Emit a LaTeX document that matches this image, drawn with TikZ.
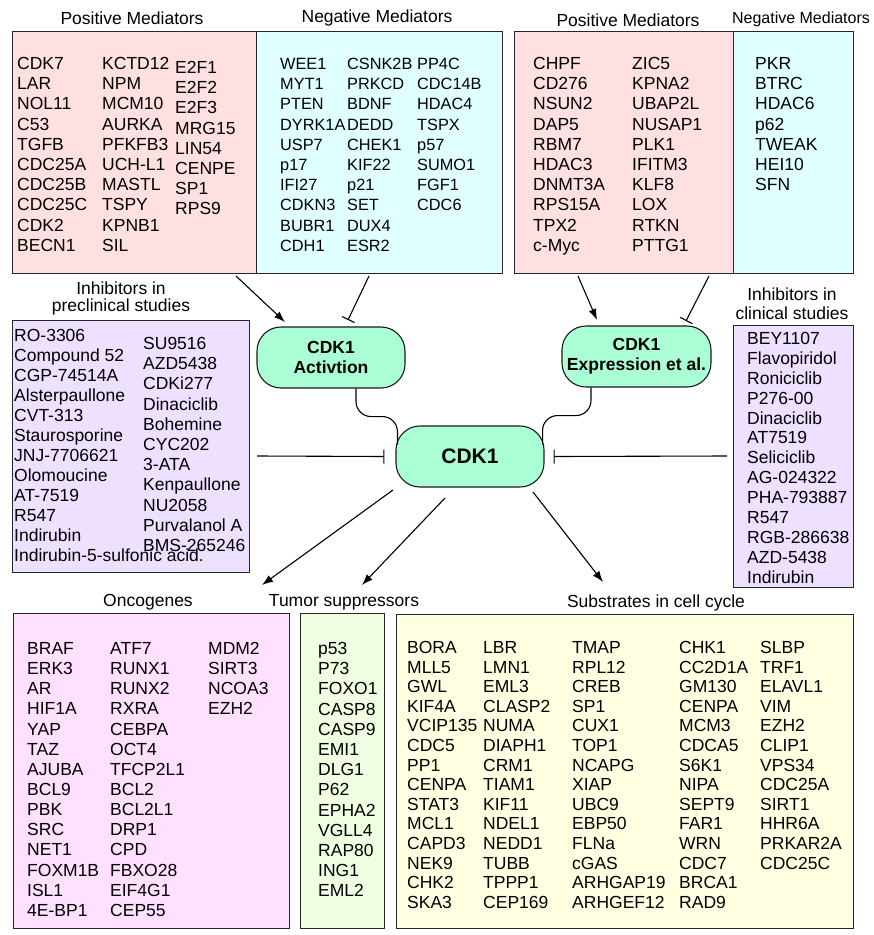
\documentclass[tikz,border=0pt]{standalone}
\usepackage{fontspec}
\setmainfont{Liberation Sans}
\usetikzlibrary{arrows.meta,calc}
\definecolor{pinkbox}{RGB}{255,224,224}
\definecolor{cyanbox}{RGB}{224,255,255}
\definecolor{lavbox}{RGB}{238,224,255}
\definecolor{oncbox}{RGB}{255,224,255}
\definecolor{tumbox}{RGB}{240,255,226}
\definecolor{subbox}{RGB}{255,255,226}
\definecolor{mint}{RGB}{170,255,212}
\newcommand\itemcol[5]{%
  \foreach \t [count=\k] in {#5}{%
    \node[itemtxt, name=#1-\k] at (#2, {#3+(\k-1)*#4+6.4}) {\t};
  }}
\begin{document}
\begin{tikzpicture}[x=1pt,y=-1pt,
  itemtxt/.style={anchor=base west, inner sep=0pt, font=\fontsize{17.5}{20}\selectfont},
  ttl/.style={inner sep=0pt, font=\fontsize{17.5}{20}\selectfont, align=center},
  box/.style={draw=black!85, line width=1.1pt, anchor=north west, inner sep=0pt},
  cdk/.style={draw=black!90, line width=1.1pt, fill=mint, rounded corners=24pt, align=center, inner sep=0pt, font=\fontsize{17.5}{20}\selectfont\bfseries},
  conn/.style={line width=1.1pt, draw=black},
  act/.style={conn, -{Latex[length=11pt,width=8pt]}},
  inh/.style={conn, -{Bar[width=14pt,line width=1.1pt]}}
]
\useasboundingbox (0,0) rectangle (874,935);

% ---------- boxes ----------
\node[box, fill=pinkbox, minimum width=244pt, minimum height=242pt] (posL) at (12,31) {};
\node[box, fill=cyanbox, minimum width=246pt, minimum height=242pt] (negL) at (256,31) {};
\node[box, fill=pinkbox, minimum width=219pt, minimum height=242pt] (posR) at (514,31) {};
\node[box, fill=cyanbox, minimum width=120pt, minimum height=242pt] (negR) at (733,31) {};
\node[box, fill=lavbox, minimum width=237pt, minimum height=252pt] (pre) at (12,320) {};
\node[box, fill=lavbox, minimum width=120pt, minimum height=262pt] (clin) at (733,325) {};
\node[box, fill=oncbox, minimum width=276pt, minimum height=315pt] (onc) at (13,613) {};
\node[box, fill=tumbox, minimum width=84pt, minimum height=315pt] (tum) at (300,613) {};
\node[box, fill=subbox, minimum width=457pt, minimum height=314pt] (sub) at (396,614) {};

% ---------- titles ----------
\node[ttl] (tPosL) at (132,18) {Positive Mediators};
\node[ttl] (tNegL) at (377,18) {Negative Mediators};
\node[ttl] (tPosR) at (628,20) {Positive Mediators};
\node[ttl, font=\fontsize{16}{20}\selectfont] (tNegR) at (801,19) {Negative Mediators};
\node[ttl] (tPre1) at (121,288) {Inhibitors in};
\node[ttl] (tPre2) at (121,307) {preclinical studies};
\node[ttl] (tClin1) at (792,294) {Inhibitors in};
\node[ttl] (tClin2) at (792,313) {clinical studies};
\node[ttl] (tOnc) at (148,602) {Oncogenes};
\node[ttl] (tTum) at (344,602) {Tumor suppressors};
\node[ttl] (tSub) at (656,603) {Substrates in cell cycle};

% ---------- lists ----------
\itemcol{pl1}{17}{63}{20.2}{CDK7,LAR,NOL11,C53,TGFB,CDC25A,CDC25B,CDC25C,CDK2,BECN1}
\itemcol{pl2}{102}{63}{20.2}{KCTD12,NPM,MCM10,AURKA,PFKFB3,UCH-L1,MASTL,TSPY,KPNB1,SIL}
\itemcol{pl3}{175}{67}{20.2}{E2F1,E2F2,E2F3,MRG15,LIN54,CENPE,SP1,RPS9}
\begin{scope}[itemtxt/.append style={font=\fontsize{16.3}{20}\selectfont}]
\itemcol{nl1}{280}{63}{20.2}{WEE1,MYT1,PTEN,DYRK1A,USP7,p17,IFI27,CDKN3,BUBR1,CDH1}
\itemcol{nl2}{347}{63}{20.2}{CSNK2B,PRKCD,BDNF,DEDD,CHEK1,KIF22,p21,SET,DUX4,ESR2}
\itemcol{nl3}{417}{63}{20.2}{PP4C,CDC14B,HDAC4,TSPX,p57,SUMO1,FGF1,CDC6}
\end{scope}
\itemcol{pr1}{533}{63}{20.2}{CHPF,CD276,NSUN2,DAP5,RBM7,HDAC3,DNMT3A,RPS15A,TPX2,c-Myc}
\itemcol{pr2}{632}{63}{20.2}{ZIC5,KPNA2,UBAP2L,NUSAP1,PLK1,IFITM3,KLF8,LOX,RTKN,PTTG1}
\itemcol{nr1}{755}{63}{20.2}{PKR,BTRC,HDAC6,p62,TWEAK,HEI10,SFN}
\itemcol{pc1}{14}{335}{20}{RO-3306,Compound 52,CGP-74514A,Alsterpaullone,CVT-313,Staurosporine,JNJ-7706621,Olomoucine,AT-7519,R547,Indirubin,Indirubin-5-sulfonic acid.}
\itemcol{pc2}{143}{343}{20.2}{SU9516,AZD5438,CDKi277,Dinaciclib,Bohemine,CYC202,3-ATA,Kenpaullone,NU2058,Purvalanol A,BMS-265246}
\itemcol{cl1}{747}{338}{19.9}{BEY1107,Flavopiridol,Roniciclib,P276-00,Dinaciclib,AT7519,Seliciclib,AG-024322,PHA-793887,R547,RGB-286638,AZD-5438,Indirubin}
\itemcol{on1}{27}{648}{20.15}{BRAF,ERK3,AR,HIF1A,YAP,TAZ,AJUBA,BCL9,PBK,SRC,NET1,FOXM1B,ISL1,4E-BP1}
\itemcol{on2}{110}{648}{20.15}{ATF7,RUNX1,RUNX2,RXRA,CEBPA,OCT4,TFCP2L1,BCL2,BCL2L1,DRP1,CPD,FBXO28,EIF4G1,CEP55}
\itemcol{on3}{208}{648}{20.15}{MDM2,SIRT3,NCOA3,EZH2}
\itemcol{ts1}{318}{648}{20.2}{p53,P73,FOXO1,CASP8,CASP9,EMI1,DLG1,P62,EPHA2,VGLL4,RAP80,ING1,EML2}
\itemcol{sb1}{407}{647}{19.6}{BORA,MLL5,GWL,KIF4A,VCIP135,CDC5,PP1,CENPA,STAT3,MCL1,CAPD3,NEK9,CHK2,SKA3}
\itemcol{sb2}{483}{647}{19.6}{LBR,LMN1,EML3,CLASP2,NUMA,DIAPH1,CRM1,TIAM1,KIF11,NDEL1,NEDD1,TUBB,TPPP1,CEP169}
\itemcol{sb3}{572}{647}{19.6}{TMAP,RPL12,CREB,SP1,CUX1,TOP1,NCAPG,XIAP,UBC9,EBP50,FLNa,cGAS,ARHGAP19,ARHGEF12}
\itemcol{sb4}{679}{647}{19.6}{CHK1,CC2D1A,GM130,CENPA,MCM3,CDCA5,S6K1,NIPA,SEPT9,FAR1,WRN,CDC7,BRCA1,RAD9}
\itemcol{sb5}{760}{647}{19.6}{SLBP,TRF1,ELAVL1,VIM,EZH2,CLIP1,VPS34,CDC25A,SIRT1,HHR6A,PRKAR2A,CDC25C}

% ---------- CDK1 nodes ----------
\node[cdk, minimum width=148pt, minimum height=61pt] (act) at (331,357.5) {CDK1\\Activtion};
\node[cdk, minimum width=149pt, minimum height=61pt] (expr) at (636.5,356.5) {CDK1\\Expression et al.};
\node[cdk, minimum width=148pt, minimum height=61pt, font=\fontsize{21}{24}\selectfont\bfseries] (cdk1) at (470,456.5) {CDK1};

% ---------- connectors ----------
\coordinate (s1) at (236,276);  \coordinate (e1) at (285,322);
\coordinate (s2) at (369,276);  \coordinate (e2) at (348,320);
\coordinate (s3) at (578,276);  \coordinate (e3) at (597,320);
\coordinate (s4) at (709,276);  \coordinate (e4) at (686,321);
\draw[act] (s1) -- (e1);
\draw[inh] (s2) -- (e2);
\draw[act] (s3) -- (e3);
\draw[inh] (s4) -- (e4);

\draw[conn, rounded corners=15pt] ($(act.south)+(25,0)$) -- ++(0,28) -| ($(cdk1.north west)+(2,19)$);
\draw[conn, rounded corners=15pt] ($(expr.south)+(-45.5,0)$) -- ++(0,28) -| ($(cdk1.north east)+(-2,19)$);

\coordinate (p1) at (257,456); \coordinate (p2) at (727,456);
\draw[inh] (p1) -- ($(cdk1.west)+(-11,0)$);
\draw[inh] (p2) -- ($(cdk1.east)+(9,0)$);

\coordinate (b1) at (393,490); \coordinate (f1) at (262,585);
\coordinate (b2) at (445,498); \coordinate (f2) at (362,585);
\coordinate (b3) at (533,492); \coordinate (f3) at (603,582);
\draw[act] (b1) -- (f1);
\draw[act] (b2) -- (f2);
\draw[act] (b3) -- (f3);
\end{tikzpicture}
\end{document}
